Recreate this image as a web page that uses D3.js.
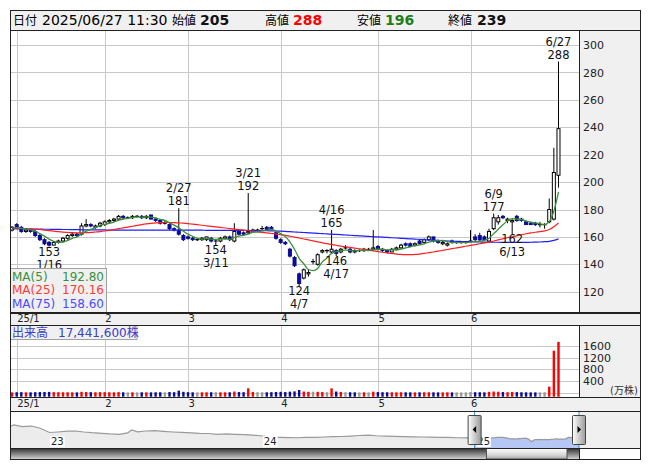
<!DOCTYPE html>
<html><head><meta charset="utf-8">
<script src="https://cdn.jsdelivr.net/npm/d3@7/dist/d3.min.js"></script>
<style>
html,body{margin:0;padding:0;background:#fff;}
svg{display:block;font-family:"DejaVu Sans","Noto Sans CJK JP",sans-serif;}
</style></head><body>
<svg id="chart" width="653" height="470"></svg>
<script>
// ---------------- DATA ----------------
const headerTime = "2025/06/27 11:30";
const dates = ["12/30",
"1/6","1/7","1/8","1/9","1/10","1/14","1/15","1/16","1/17","1/20","1/21","1/22","1/23","1/24","1/27","1/28","1/29","1/30","1/31",
"2/3","2/4","2/5","2/6","2/7","2/10","2/12","2/13","2/14","2/17","2/18","2/19","2/20","2/21","2/25","2/26","2/27","2/28",
"3/3","3/4","3/5","3/6","3/7","3/10","3/11","3/12","3/13","3/14","3/17","3/18","3/19","3/21","3/24","3/25","3/26","3/27","3/28","3/31",
"4/1","4/2","4/3","4/4","4/7","4/8","4/9","4/10","4/11","4/14","4/15","4/16","4/17","4/18","4/21","4/22","4/23","4/24","4/25","4/28","4/30",
"5/1","5/2","5/7","5/8","5/9","5/12","5/13","5/14","5/15","5/16","5/19","5/20","5/21","5/22","5/23","5/26","5/27","5/28","5/29","5/30",
"6/2","6/3","6/4","6/5","6/6","6/9","6/10","6/11","6/12","6/13","6/16","6/17","6/18","6/19","6/20","6/23","6/24","6/25","6/26","6/27"];
const opens = [165,169,167,164,165,164,161,158,156,154,
 156,157,159,161,162,162,168,169,167,168,
 169,171,172,173,175,174,174,175,175,174,
 176,173,172,170,169,166,165,161,160,159,
 158,158,158,159,157,157,159,160,157,164,
 163,163,164,165,166,167,167,163,158,156,
 151,145,133,130,133,142,140,149,150,149,
 150,149,152,151,150,150,150,151,151,153,
 151,150,149,151,152,155,155,154,157,156,
 158,160,157,155,154,157,156,156,156,157,
 160,161,160,157,166,171,175,172,171,175,
 173,171,170,170,169,169,171,173,205];
const highs = [168,170,168,166,166,165,162,159,157,157,
 158,160,162,163,163,170,173,170,169,171,
 172,173,174,176,176,175,176,176,176,176,
 176,174,173,172,170,167,181,162,161,160,
 159,160,160,160,158,160,161,161,170,165,
 164,192,166,166,168,168,168,164,159,157,
 152,146,134,137,136,144,148,151,151,165,
 151,152,154,152,151,151,152,152,165,154,
 152,151,152,153,155,156,156,156,158,159,
 161,160,158,157,156,158,157,157,157,165,
 162,163,161,166,177,176,176,174,173,176,
 174,172,171,171,171,170,188,225,288];
const lows = [164,166,163,163,163,160,157,154,153,154,
 155,156,158,160,160,161,167,167,166,167,
 168,170,171,172,173,173,173,174,173,173,
 173,171,169,169,165,164,161,157,158,157,
 157,157,157,156,154,156,158,157,156,161,
 161,162,163,164,165,165,165,158,155,154,
 145,138,124,129,131,140,139,148,148,148,
 146,148,151,148,148,149,149,150,150,150,
 149,148,149,150,151,153,153,153,155,155,
 157,156,155,154,153,155,155,155,155,156,
 157,157,157,156,165,169,173,170,162,171,
 171,169,169,168,167,166,170,172,196];
const closes = [167,167,164,165,164,161,158,155,154,156,
 157,159,161,162,161,168,169,168,168,170,
 171,172,173,175,174,174,175,175,174,175,
 173,172,170,170,166,165,162,158,159,158,
 158,159,160,157,157,159,160,158,164,162,
 162,164,165,165,166,165,166,159,156,155,
 146,139,126,136,134,142,147,150,150,151,
 148,151,152,149,149,150,151,151,152,151,
 150,149,151,152,154,154,153,155,155,158,
 160,157,156,156,155,156,156,156,156,157,
 158,158,158,164,174,174,174,173,172,172,
 172,169,169,169,169,169,180,207,239];
const priorCloses = [166,167,166,167]; // closes before 12/30, needed for MA(5)
const volumes = [12,18,20,15,14,18,22,25,28,20,
 18,16,15,14,12,30,25,18,15,20,
 18,16,14,20,15,12,14,12,15,14,
 12,15,16,14,22,18,70,30,18,14,
 12,14,15,16,20,15,14,16,40,22,
 18,150,25,18,16,15,18,25,30,22,
 35,45,93,40,30,35,30,22,18,150,
 40,25,18,16,14,12,14,12,34,22,
 18,16,15,14,16,15,14,12,14,16,
 15,14,12,12,14,12,12,10,12,25,
 18,16,14,28,40,34,22,18,25,20,
 16,14,12,12,14,16,206,1440,1744.16]; // 万株
const ma25 = [166.5,166.3,166.2,166.0,165.8,165.6,165.4,165.0,164.6,164.2,
 163.8,163.5,163.3,163.1,163.0,163.0,163.1,163.3,163.6,163.9,
 164.3,164.8,165.4,166.0,166.6,167.2,167.8,168.4,169.0,169.5,
 169.9,170.2,170.4,170.5,170.5,170.4,170.2,170.0,169.7,169.3,
 168.9,168.5,168.1,167.7,167.3,166.9,166.5,166.1,165.7,165.3,
 164.9,164.5,164.1,163.7,163.3,162.9,162.5,162.1,161.6,161.1,
 160.5,159.9,159.2,158.5,157.8,157.1,156.4,155.7,155.1,154.5,
 153.9,153.3,152.8,152.3,151.8,151.3,150.8,150.3,149.8,149.3,
 148.8,148.3,147.9,147.5,147.2,147.0,147.0,147.2,147.5,148.0,
 148.5,149.0,149.6,150.2,150.8,151.4,152.0,152.6,153.2,153.8,
 154.4,155.0,155.6,156.2,157.0,157.8,158.6,159.4,160.1,160.8,
 161.6,162.3,162.9,163.4,163.9,164.4,165.4,167.4,170.16];
const ma75 = [166.0,165.9,165.9,165.8,165.8,165.7,165.7,165.6,165.6,165.5,
 165.5,165.4,165.4,165.3,165.3,165.2,165.2,165.2,165.1,165.1,
 165.1,165.0,165.0,165.0,165.0,165.0,165.0,165.0,165.0,165.0,
 165.0,165.0,165.0,165.0,165.0,165.0,164.9,164.9,164.9,164.9,
 164.9,164.9,164.8,164.8,164.8,164.8,164.8,164.8,164.7,164.7,
 164.7,164.7,164.6,164.6,164.5,164.5,164.4,164.3,164.2,164.0,
 163.8,163.6,163.4,163.2,163.0,162.8,162.6,162.4,162.2,162.0,
 161.8,161.6,161.4,161.2,161.0,160.8,160.6,160.4,160.2,160.0,
 159.8,159.6,159.4,159.2,159.0,158.8,158.6,158.4,158.2,158.0,
 157.8,157.6,157.4,157.2,157.0,156.9,156.8,156.7,156.6,156.5,
 156.4,156.3,156.2,156.2,156.1,156.1,156.0,156.0,156.0,156.0,
 156.0,156.0,156.1,156.2,156.3,156.5,156.8,157.5,158.6];
const priceTicks = [120,140,160,180,200,220,240,260,280,300];
const volTicks = [400,800,1200,1600];
const monthLabels = ["25/1","2","3","4","5","6"];
const annotations = [
  {date:"1/16",kind:"low"},{date:"2/27",kind:"high"},{date:"3/11",kind:"low"},
  {date:"3/21",kind:"high"},{date:"4/7",kind:"low"},{date:"4/16",kind:"high"},
  {date:"4/17",kind:"low"},{date:"6/9",kind:"high"},{date:"6/13",kind:"low"},
  {date:"6/27",kind:"high"}];
const navHistDates = ["2022-10-27","2022-11-01","2022-11-15","2022-12-01","2022-12-15",
 "2023-01-01","2023-01-15","2023-02-01","2023-02-15","2023-03-01","2023-03-15","2023-04-01","2023-04-15",
 "2023-05-01","2023-05-15","2023-05-22","2023-06-01","2023-06-15","2023-07-01","2023-07-15","2023-08-01","2023-08-15",
 "2023-09-01","2023-09-15","2023-10-01","2023-10-15","2023-11-01","2023-11-15","2023-12-01","2023-12-15",
 "2024-01-01","2024-01-15","2024-02-01","2024-02-15","2024-03-01","2024-03-15","2024-04-01","2024-04-15",
 "2024-05-01","2024-05-15","2024-06-01","2024-06-15","2024-07-01","2024-07-15","2024-08-01","2024-08-15",
 "2024-09-01","2024-09-15","2024-10-01","2024-10-15","2024-11-01","2024-11-15","2024-12-01","2024-12-15"];
const navHistValues = [301,313,294,301,279,
 229,235,244,246,235,227,220,213,
 209,224,257,236,246,249,242,235,231,
 224,220,218,209,213,209,206,201,
 190,179,176,173,171,174,176,179,
 183,185,190,196,201,193,190,187,
 184,181,179,177,176,174,171,170];
const navYears = [2023,2024,2025];

// ---------------- LAYOUT ----------------
const svg = d3.select("#chart");
const X0 = 10.5, X1 = 640.5, PR = 579.5;
const Y_HDR0 = 10.5, Y_MAIN0 = 30, Y_MAIN1 = 312.5, Y_VOL0 = 325, Y_VOL1 = 397, Y_NAV0 = 410.5, Y_NAV1 = 448, Y_SCR1 = 459.5;
const GRID = "#c8c8c8", PANEL = "#f0f0f0", BORDER = "#222";
const UP_FILL = "#ffffff", DOWN_FILL = "#0b0b96";

const rows = dates.map((d,i)=>({d, i, o:opens[i], h:highs[i], l:lows[i], c:closes[i], v:volumes[i], m25:ma25[i], m75:ma75[i]}));
const allC = priorCloses.concat(closes);
rows.forEach((r,i)=>{ r.m5 = d3.mean(allC.slice(i, i+5)); });

const x = d3.scaleBand().domain(dates).range([9.75, 560.8]);
const cx = d => x(d) + x.bandwidth()/2;
const y = d3.scaleLinear().domain([105.2, 311]).range([312, 30]);
const yv = d3.scaleLinear().domain([-137, 2322]).range([396.7, 325]);
const monthStarts = dates.filter((d,i)=> i>0 && d.split("/")[0] !== dates[i-1].split("/")[0]);

const defs = svg.append("defs");
defs.append("clipPath").attr("id","clipMain").append("rect").attr("x",X0).attr("y",Y_MAIN0).attr("width",PR-X0).attr("height",Y_MAIN1-Y_MAIN0);

// panel backgrounds
const bg = (x0,y0,x1,y1,f)=>svg.append("rect").attr("x",x0).attr("y",y0).attr("width",x1-x0).attr("height",y1-y0).attr("fill",f);
bg(X0,Y_HDR0,X1,Y_MAIN0,PANEL);
bg(PR,Y_MAIN0,X1,Y_MAIN1,PANEL);
bg(X0,Y_MAIN1,X1,Y_VOL0,PANEL);
bg(PR,Y_VOL0,X1,Y_VOL1,PANEL);
bg(X0,Y_VOL1,X1,Y_NAV0,PANEL);
bg(PR,Y_NAV0,X1,Y_NAV1,PANEL);

// grid
const grid = svg.append("g").attr("stroke",GRID).attr("stroke-width",1).attr("shape-rendering","crispEdges");
priceTicks.forEach(t=>grid.append("line").attr("x1",X0).attr("x2",PR).attr("y1",Math.round(y(t))+0.5).attr("y2",Math.round(y(t))+0.5));
volTicks.forEach(t=>grid.append("line").attr("x1",X0).attr("x2",PR).attr("y1",Math.round(yv(t))+0.5).attr("y2",Math.round(yv(t))+0.5));
grid.append("line").attr("x1",X0).attr("x2",PR).attr("y1",Math.round(yv(0))+0.5).attr("y2",Math.round(yv(0))+0.5);
monthStarts.forEach(d=>{
  const gx = Math.round(cx(d))+0.5;
  grid.append("line").attr("x1",gx).attr("x2",gx).attr("y1",Y_MAIN0).attr("y2",Y_MAIN1);
  grid.append("line").attr("x1",gx).attr("x2",gx).attr("y1",Y_VOL0).attr("y2",Y_VOL1);
});

// candles
const main = svg.append("g").attr("clip-path","url(#clipMain)");
const cg = main.append("g");
const BW = 3.0;
rows.forEach(r=>{
  const px = cx(r.d);
  cg.append("line").attr("x1",px).attr("x2",px).attr("y1",y(r.h)).attr("y2",y(r.l)).attr("stroke","#000").attr("stroke-width",1);
  if (r.c > r.o) {
    cg.append("rect").attr("x",px-BW/2).attr("y",y(r.c)).attr("width",BW).attr("height",Math.max(0.5,y(r.o)-y(r.c)))
      .attr("fill",UP_FILL).attr("stroke","#000").attr("stroke-width",1);
  } else if (r.c < r.o) {
    cg.append("rect").attr("x",px-BW/2).attr("y",y(r.o)).attr("width",BW).attr("height",Math.max(0.5,y(r.c)-y(r.o)))
      .attr("fill",DOWN_FILL).attr("stroke",DOWN_FILL).attr("stroke-width",1);
  } else {
    cg.append("line").attr("x1",px-BW/2-0.5).attr("x2",px+BW/2+0.5).attr("y1",y(r.c)).attr("y2",y(r.c)).attr("stroke","#000").attr("stroke-width",1.2);
  }
});

// moving averages
const mk = key => d3.line().x(r=>cx(r.d)).y(r=>y(r[key])).curve(d3.curveMonotoneX);
main.append("path").datum(rows).attr("d",mk("m75")).attr("fill","none").attr("stroke","#1f1fff").attr("stroke-width",1.2);
main.append("path").datum(rows).attr("d",mk("m25")).attr("fill","none").attr("stroke","#ff1f1f").attr("stroke-width",1.2);
main.append("path").datum(rows).attr("d",mk("m5")).attr("fill","none").attr("stroke","#3b8f3b").attr("stroke-width",1.3);

// annotations
const ag = main.append("g").attr("font-size",11.5).attr("fill","#111").attr("text-anchor","middle");
annotations.forEach(a=>{
  const r = rows[dates.indexOf(a.date)];
  const px = cx(r.d);
  if (a.kind==="high") {
    ag.append("text").attr("x",px).attr("y",y(r.h)-16).text(a.date);
    ag.append("text").attr("x",px).attr("y",y(r.h)-3).text(r.h);
  } else {
    ag.append("text").attr("x",px).attr("y",y(r.l)+9).text(r.l);
    ag.append("text").attr("x",px).attr("y",y(r.l)+22).text(a.date);
  }
});

// MA legend
const last = rows[rows.length-1];
const lg = svg.append("g");
lg.append("rect").attr("x",X0).attr("y",268.5).attr("width",96).attr("height",Y_MAIN1-268.5).attr("fill",PANEL).attr("stroke","#a0a0a0");
[["MA(5)",last.m5,"#3b8f3b"],["MA(25)",last.m25,"#ff3a3a"],["MA(75)",last.m75,"#4a4aff"]].forEach((m,k)=>{
  const by = 281 + k*13.3;
  lg.append("text").attr("x",12).attr("y",by).attr("font-size",12).attr("fill",m[2]).text(m[0]);
  lg.append("text").attr("x",104).attr("y",by).attr("font-size",12).attr("fill",m[2]).attr("text-anchor","end").text(d3.format(".2f")(m[1]));
});

// volume bars
const vg = svg.append("g");
rows.forEach(r=>{
  const col = r.c > r.o ? "#ff0000" : (r.c < r.o ? "#0b0b96" : "#999999");
  vg.append("rect").attr("x",cx(r.d)-1.2).attr("y",yv(r.v)).attr("width",2.4).attr("height",yv.range()[0]-yv(r.v)).attr("fill",col);
});
const vb = svg.append("g");
vb.append("rect").attr("x",X0).attr("y",Y_VOL0+0.5).attr("width",126.5).attr("height",14).attr("fill",PANEL).attr("stroke","#a0a0a0");
vb.append("text").attr("x",12).attr("y",336.5).attr("font-size",12).attr("fill","#3c3cc8").text("出来高");
vb.append("text").attr("x",58).attr("y",336.5).attr("font-size",12).attr("fill","#3c3cc8").text(d3.format(",")(Math.round(last.v*10000))+"株");

// axes (right)
const ya = svg.append("g").attr("transform",`translate(${PR},0)`).call(d3.axisRight(y).tickValues(priceTicks).tickSize(0).tickPadding(3.5));
ya.select(".domain").remove();
ya.attr("font-family","DejaVu Sans").attr("font-size",11);
ya.selectAll("text").attr("fill","#222");
const yva = svg.append("g").attr("transform",`translate(${PR},0)`).call(d3.axisRight(yv).tickValues(volTicks).tickFormat(d3.format("d")).tickSize(0).tickPadding(3.5));
yva.select(".domain").remove();
yva.attr("font-family","DejaVu Sans").attr("font-size",11);
yva.selectAll("text").attr("fill","#222");
svg.append("text").attr("x",610).attr("y",394).attr("font-size",10).attr("fill","#333").text("(万株)");

// month strips
[Y_MAIN1+9.3, Y_VOL1+9.6].forEach(by=>{
  monthStarts.forEach((d,k)=>{
    svg.append("text").attr("x",cx(d)+0.5).attr("y",by).attr("font-size",10).attr("fill","#222").text(monthLabels[k]);
  });
});

// header
const hg = svg.append("g");
const ht = (xx,txt,opt)=>{ const t = hg.append("text").attr("x",xx).attr("y",25).text(txt);
  Object.entries(opt||{}).forEach(([k,v])=>t.attr(k,v)); return t; };
ht(13,"日付",{"font-size":12});
ht(42,headerTime,{"font-size":14});
ht(172,"始値",{"font-size":12});
ht(200,last.o,{"font-size":14,"font-weight":"bold","fill":"#111"});
ht(265,"高値",{"font-size":12});
ht(293,last.h,{"font-size":14,"font-weight":"bold","fill":"#ff0000"});
ht(357,"安値",{"font-size":12});
ht(385,last.l,{"font-size":14,"font-weight":"bold","fill":"#1a7f1a"});
ht(448,"終値",{"font-size":12});
ht(477,last.c,{"font-size":14,"font-weight":"bold","fill":"#111"});

// ---------------- NAVIGATOR ----------------
const parseISO = d3.timeParse("%Y-%m-%d");
const parseMD = s => { const [m,d] = s.split("/").map(Number); return new Date(m===12?2024:2025, m-1, d); };
const navX = d3.scaleTime().domain([new Date(2022,9,27), new Date(2025,5,27)]).range([11, 579]);
const navY = d3.scaleLinear().domain([57,468]).range([Y_NAV1,411]);
const navPts = navHistDates.map((d,i)=>({t:parseISO(d), v:navHistValues[i]}))
  .concat(rows.map(r=>({t:parseMD(r.d), v:r.c})));
const selA = navX(parseMD(dates[0])), selB = navX(parseMD(dates[dates.length-1]));
defs.append("clipPath").attr("id","clipSel").append("rect").attr("x",selA).attr("y",Y_NAV0).attr("width",selB-selA).attr("height",Y_NAV1-Y_NAV0);
const navArea = d3.area().x(p=>navX(p.t)).y0(Y_NAV1).y1(p=>navY(p.v));
const navLine = d3.line().x(p=>navX(p.t)).y(p=>navY(p.v));
svg.append("path").datum(navPts).attr("d",navArea).attr("fill","#ececec");
svg.append("path").datum(navPts).attr("d",navArea).attr("fill","#b7c7f5").attr("clip-path","url(#clipSel)");
svg.append("path").datum(navPts).attr("d",navLine).attr("fill","none").attr("stroke","#9a9a9a").attr("stroke-width",1.2);
navYears.forEach(yr=>{
  const xx = navX(new Date(yr,0,1)) + 1.5;
  const t = svg.append("text").attr("x",xx).attr("y",445).attr("font-size",10).attr("fill","#222").text(String(yr).slice(2));
  const bb = t.node().getBBox();
  svg.insert("rect", () => t.node()).attr("x",bb.x-1).attr("y",bb.y).attr("width",bb.width+2).attr("height",bb.height).attr("fill","#fff");
});

// scrollbar
const gTrk = defs.append("linearGradient").attr("id","trk").attr("x1",0).attr("y1",0).attr("x2",0).attr("y2",1);
gTrk.append("stop").attr("offset","0%").attr("stop-color","#2a2a2a");
gTrk.append("stop").attr("offset","55%").attr("stop-color","#8a8a8a");
gTrk.append("stop").attr("offset","100%").attr("stop-color","#d6d6d6");
const gTh = defs.append("linearGradient").attr("id","thb").attr("x1",0).attr("y1",0).attr("x2",0).attr("y2",1);
gTh.append("stop").attr("offset","0%").attr("stop-color","#ffffff");
gTh.append("stop").attr("offset","60%").attr("stop-color","#d8d8d8");
gTh.append("stop").attr("offset","100%").attr("stop-color","#a8a8a8");
svg.append("rect").attr("x",X0).attr("y",Y_NAV1).attr("width",PR-X0).attr("height",Y_SCR1-Y_NAV1).attr("fill","url(#trk)");
svg.append("rect").attr("x",486.5).attr("y",Y_NAV1+0.5).attr("width",80.5).attr("height",Y_SCR1-Y_NAV1-1).attr("fill","url(#thb)").attr("stroke","#555");

// selection handles
const gH = defs.append("linearGradient").attr("id","hdl").attr("x1",0).attr("y1",0).attr("x2",1).attr("y2",0);
gH.append("stop").attr("offset","0%").attr("stop-color","#ffffff");
gH.append("stop").attr("offset","100%").attr("stop-color","#9a9a9a");
[[selA,-1],[selB,1]].forEach(([hx,dir])=>{
  svg.append("line").attr("x1",hx).attr("x2",hx).attr("y1",Y_NAV0).attr("y2",Y_NAV1).attr("stroke","#2f8fd0").attr("stroke-width",1);
  svg.append("rect").attr("x",hx-6.5).attr("y",415.5).attr("width",13).attr("height",29).attr("fill","url(#hdl)").attr("stroke","#444").attr("rx",1);
  const ty = 429.5;
  svg.append("path").attr("d", dir<0
      ? `M${hx-2},${ty} L${hx+1.5},${ty-3.5} L${hx+1.5},${ty+3.5} Z`
      : `M${hx+2},${ty} L${hx-1.5},${ty-3.5} L${hx-1.5},${ty+3.5} Z`).attr("fill","#000");
});

// borders
const bl = svg.append("g").attr("stroke",BORDER).attr("fill","none").attr("shape-rendering","crispEdges");
bl.append("rect").attr("x",X0).attr("y",Y_HDR0).attr("width",X1-X0).attr("height",Y_SCR1-Y_HDR0);
[Y_MAIN0, Y_VOL0, Y_VOL1, Y_NAV0, Y_NAV1].forEach(yy=>bl.append("line").attr("x1",X0).attr("x2",X1).attr("y1",Math.round(yy)+0.5).attr("y2",Math.round(yy)+0.5));
bl.append("line").attr("x1",X0).attr("x2",X1).attr("y1",Y_MAIN1).attr("y2",Y_MAIN1).attr("stroke-width",2);
bl.append("line").attr("x1",PR).attr("x2",PR).attr("y1",Y_MAIN0).attr("y2",Y_MAIN1);
bl.append("line").attr("x1",PR).attr("x2",PR).attr("y1",Y_VOL0).attr("y2",Y_VOL1);
bl.append("line").attr("x1",PR).attr("x2",PR).attr("y1",Y_NAV1).attr("y2",Y_SCR1);
</script>
</body></html>
